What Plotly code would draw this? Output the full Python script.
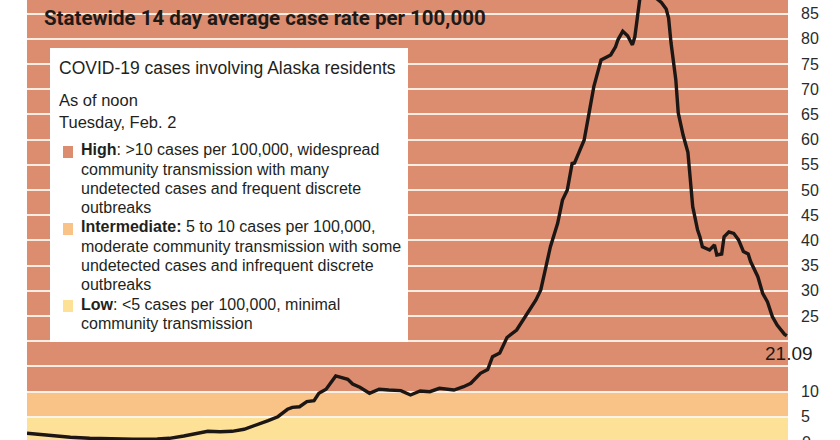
import plotly.graph_objects as go
import pandas as pd

# ---------------- data ----------------
start_date = "2020-03-24"
day_offsets = [0, 10, 18, 26, 34, 44, 54, 59, 65, 72, 75, 80, 85, 90, 95, 100, 104, 108, 110, 113,
               116, 119, 121, 124, 128, 130, 133, 135, 138, 142, 146, 150, 155, 159, 163, 167, 171,
               177, 181, 184, 188, 191, 193, 196, 199, 203, 206, 211, 213, 215, 217, 220, 222, 224,
               226, 227, 231, 233, 235, 238, 239, 242, 244, 245, 247, 249, 251, 252, 254, 256, 258,
               260, 261, 263, 265, 266, 267, 269, 270, 272, 274, 275, 276, 278, 279, 280, 282, 283,
               285, 286, 288, 289, 291, 293, 295, 297, 299, 300, 303, 305, 307, 309, 311, 314, 315]
case_rate = [1.73, 1.25, 0.93, 0.73, 0.60, 0.54, 0.60, 0.73, 1.19, 1.73, 2.12, 2.04, 2.12, 2.52, 3.31,
             4.23, 5.02, 6.49, 6.88, 7.00, 8.00, 8.19, 9.66, 10.46, 13.10, 12.84, 12.44, 11.50, 10.85,
             9.66, 10.46, 10.32, 10.20, 9.33, 10.12, 9.98, 10.65, 10.32, 10.97, 11.65, 13.63, 14.38,
             16.92, 17.66, 20.73, 22.22, 24.54, 28.17, 30.16, 34.78, 38.75, 43.39, 48.00, 50.00,
             55.26, 55.36, 59.92, 65.20, 70.50, 75.80, 76.10, 76.80, 78.40, 79.80, 81.50, 80.60,
             78.80, 80.40, 87.70, 90.00, 91.00, 89.50, 88.00, 87.20, 85.90, 84.10, 79.20, 71.80,
             65.30, 60.90, 57.50, 52.40, 46.70, 42.10, 40.70, 38.75, 38.40, 38.10, 39.10, 37.10,
             37.30, 40.70, 41.70, 41.40, 40.10, 37.80, 37.30, 35.80, 32.80, 29.50, 27.80, 24.90,
             23.20, 21.40, 21.09]
tick_values = [5, 10, 15, 20, 25, 30, 35, 40, 45, 50, 55, 60, 65, 70, 75, 80, 85]
tick_labels = ["5", "10", "", "", "25", "30", "35", "40", "45", "50", "55", "60", "65", "70",
               "75", "80", "85"]
band_edges = [-5, 5, 10, 200]
band_colors = ["#fde196", "#f9c286", "#dc8c6f"]
latest_label = "21.09"

title_text = "Statewide 14 day average case rate per 100,000"
box_header = "COVID-19 cases involving Alaska residents"
box_date = ["As of noon", "Tuesday, Feb. 2"]
legend_lines = [
    "<b>High</b>: &gt;10 cases per 100,000, widespread",
    "community transmission with many",
    "undetected cases and frequent discrete",
    "outbreaks",
    "<b>Intermediate:</b> 5 to 10 cases per 100,000,",
    "moderate community transmission with some",
    "undetected cases and infrequent discrete",
    "outbreaks",
    "<b>Low</b>: &lt;5 cases per 100,000, minimal",
    "community transmission",
]
legend_square_line = [0, 4, 8]

# ---------------- layout helpers ----------------
W, H = 840, 440
L, R = 27, 788


def px(x):
    return (x - L) / (R - L)


def py(y):
    return 1 - y / H


dates = pd.Timestamp(start_date) + pd.to_timedelta(day_offsets, unit="D")
x_end = pd.Timestamp(start_date) + pd.Timedelta(days=315.5)

fig = go.Figure()
fig.add_trace(go.Scatter(x=dates, y=case_rate, mode="lines",
                         line=dict(color="#1c1714", width=3.4),
                         hoverinfo="skip", showlegend=False))

shapes = []
for i, c in enumerate(band_colors):
    shapes.append(dict(type="rect", xref="paper", yref="y", x0=0, x1=1,
                       y0=band_edges[i], y1=band_edges[i + 1],
                       fillcolor=c, line=dict(width=0), layer="below"))
# white info box
shapes.append(dict(type="rect", xref="paper", yref="paper", x0=px(50), x1=px(408),
                   y0=py(342), y1=py(48), fillcolor="white", line=dict(width=0),
                   layer="above"))

TXT = "#231f1c"
SANS = "Liberation Sans, Arial, sans-serif"
ann = []
ann.append(dict(text=title_text, x=px(42), y=py(18), xref="paper", yref="paper",
                xanchor="left", yanchor="middle", showarrow=False,
                font=dict(family="Roboto, sans-serif", size=20.5, color="#1e1a17",
                          weight="bold")))
ann.append(dict(text=box_header, x=px(57), y=py(68), xref="paper", yref="paper",
                xanchor="left", yanchor="middle", showarrow=False,
                font=dict(family=SANS, size=17.5, color=TXT)))
for i, t in enumerate(box_date):
    ann.append(dict(text=t, x=px(57), y=py(100 + 22 * i), xref="paper", yref="paper",
                    xanchor="left", yanchor="middle", showarrow=False,
                    font=dict(family=SANS, size=16.5, color=TXT)))
for i, t in enumerate(legend_lines):
    ann.append(dict(text=t, x=px(79), y=py(150 + 19.25 * i), xref="paper", yref="paper",
                    xanchor="left", yanchor="middle", showarrow=False,
                    font=dict(family=SANS, size=16, color=TXT)))
for k, li in enumerate(legend_square_line):
    yc = 150 + 19.25 * li + 2
    shapes.append(dict(type="rect", xref="paper", yref="paper", x0=px(63), x1=px(73),
                       y0=py(yc + 6), y1=py(yc - 6), fillcolor=band_colors[2 - k],
                       line=dict(width=0), layer="above"))
ann.append(dict(text=latest_label, x=x_end, y=case_rate[-1], xref="x", yref="y",
                xanchor="center", yanchor="top", yshift=-5, xshift=1, showarrow=False,
                font=dict(family=SANS, size=19, color="#1e1a17")))
ann.append(dict(text="0", x=1, y=py(442), xref="paper", yref="paper", xanchor="left",
                yanchor="middle", xshift=12, showarrow=False,
                font=dict(family=SANS, size=16, color="#2b2b2b")))

fig.update_layout(
    width=W, height=H,
    margin=dict(l=L, r=W - R, t=0, b=0),
    paper_bgcolor="white", plot_bgcolor="white",
    shapes=shapes, annotations=ann,
    xaxis=dict(range=[pd.Timestamp(start_date), x_end], visible=False, showgrid=False),
    yaxis=dict(range=[2 / 5.04, 442 / 5.04], side="right", tickvals=tick_values,
               ticktext=tick_labels, showgrid=True, gridcolor="rgba(255,247,240,0.9)",
               gridwidth=1.6, zeroline=False, showline=False, ticks="",
               ticklabelstandoff=12,
               tickfont=dict(family=SANS, size=16, color="#2b2b2b")),
)

fig.write_html("out.html", config={"displayModeBar": False},
               post_script="document.body.style.margin='0';")
